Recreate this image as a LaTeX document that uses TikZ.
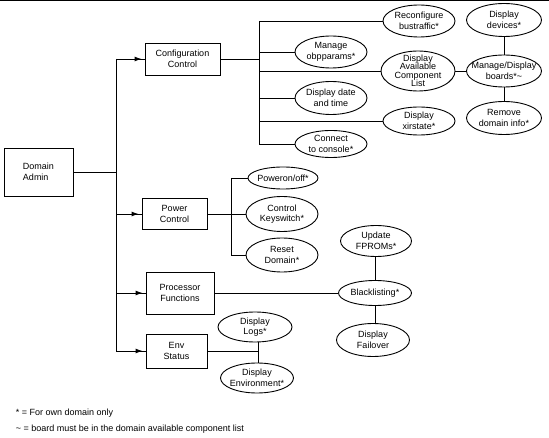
\documentclass[tikz,border=0pt]{standalone}
\usepackage{fontspec}
\setmainfont{Liberation Sans}
\usetikzlibrary{shapes.geometric,decorations.markings,arrows.meta}

\begin{document}
\begin{tikzpicture}[x = 1pt, y = -1pt, line width = 0.9pt,
    font = \fontsize{9}{10.5}\selectfont,
    box/.style = {draw, inner sep = 0pt, align = center},
    oval/.style n args = {3}{ellipse, draw, inner sep = 0pt,
        minimum width = #1, minimum height = #2,
        label = {[align = center, inner sep = 0pt]center:#3}},
    feed/.style = {postaction = {decorate}, decoration = {markings,
        mark = at position -3pt with {\arrow{Latex[length=7pt,width=5pt]}}}}]
    % Page size and top rule
    \useasboundingbox (0,0) rectangle (549,438);
    \draw (0,0.5) -- (549,0.5);

    % Main boxes
    \node[box, minimum width = 69pt, minimum height = 48pt, align = left] (DA) at (38.5,172) {Domain\\Admin};
    \node[box, minimum width = 75pt, minimum height = 32pt] (CC) at (182.5,59) {Configuration\\Control};
    \node[box, minimum width = 65pt, minimum height = 31pt] (PC) at (174.5,214) {Power\\Control};
    \node[box, minimum width = 68pt, minimum height = 42pt] (PF) at (180,293) {Processor\\Functions};
    \node[box, minimum width = 61pt, minimum height = 34pt] (ES) at (176.5,351) {Env\\Status};

    % Configuration ovals
    \node[oval = {72pt}{32pt}{Reconfigure\\bustraffic*}] (RB) at (419,21) {};
    \node[oval = {72pt}{32pt}{Manage\\obpparams*}] (OB) at (331,52) {};
    \node[oval = {74pt}{40pt}{Display\\[-2pt]Available\\[-2pt]Component\\[-2pt]List}] (AV) at (418,71) {};
    \node[oval = {72pt}{33pt}{Display date\\and time}] (DT) at (331,98) {};
    \node[oval = {72pt}{28pt}{Display\\xirstate*}] (XS) at (419,121) {};
    \node[oval = {72pt}{27pt}{Connect\\to console*}] (CN) at (331,144) {};
    \node[oval = {75pt}{33pt}{Display\\devices*}] (DV) at (504,20) {};
    \node[oval = {75pt}{32pt}{Manage/Display\\boards*\textasciitilde}] (BD) at (504,71) {};
    \node[oval = {75pt}{33pt}{Remove\\domain info*}] (RM) at (504,118) {};

    % Power ovals
    \node[oval = {70pt}{22pt}{Poweron/off*}] (PO) at (283,178) {};
    \node[oval = {72pt}{35pt}{Control\\Keyswitch*}] (KS) at (282,214) {};
    \node[oval = {72pt}{34pt}{Reset\\Domain*}] (RS) at (282,255) {};

    % Processor ovals
    \node[oval = {71pt}{31pt}{Update\\FPROMs*}] (FP) at (376,241) {};
    \node[oval = {73pt}{25pt}{Blacklisting*}] (BL) at (375,293) {};
    \node[oval = {73pt}{33pt}{Display\\Failover}] (FO) at (373,340) {};

    % Env ovals
    \node[oval = {74pt}{30pt}{Display\\Logs*}] (LG) at (255,327) {};
    \node[oval = {73pt}{30pt}{Display\\Environment*}] (EN) at (257,378) {};

    % Trunk from Domain Admin
    \coordinate (T) at (116,172);
    \draw (DA.east) -- (T);
    \draw (T |- CC.west) -- (T |- ES.west);
    \foreach \b in {CC,PC,PF,ES}
        \draw[feed] (T |- \b.west) -- (\b.west);

    % Configuration bus
    \coordinate (CB) at (259,59);
    \draw (CC.east) -- (CB);
    \draw (CB |- RB.west) -- (CB |- CN.west);
    \foreach \e in {RB,OB,AV,DT,XS,CN}
        \draw (CB |- \e.west) -- (\e.west);
    \draw (AV.east) -- (BD.west);
    \draw (BD.north) -- (DV.south);
    \draw (BD.south) -- (RM.north);

    % Power bus
    \coordinate (PB) at (231,214);
    \draw (PC.east) -- (PB);
    \draw (PB |- PO.west) -- (PB |- RS.west);
    \foreach \e in {PO,KS,RS}
        \draw (PB |- \e.west) -- (\e.west);

    % Processor links
    \draw (PF.east) -- (BL.west);
    \draw (BL.north) -- (BL.north |- FP.south);
    \draw (BL.south) -- (BL.south |- FO.north);

    % Env links
    \coordinate (EB) at (258,351);
    \draw (ES.east) -- (EB);
    \draw (EB |- LG.south) -- (EB |- EN.north);

    % Legend
    \node[anchor = west] (L1) at (12,413) {* = For own domain only};
    \node[anchor = west] (L2) at (12,429) {\textasciitilde\ = board must be in the domain available component list};
\end{tikzpicture}
\end{document}
